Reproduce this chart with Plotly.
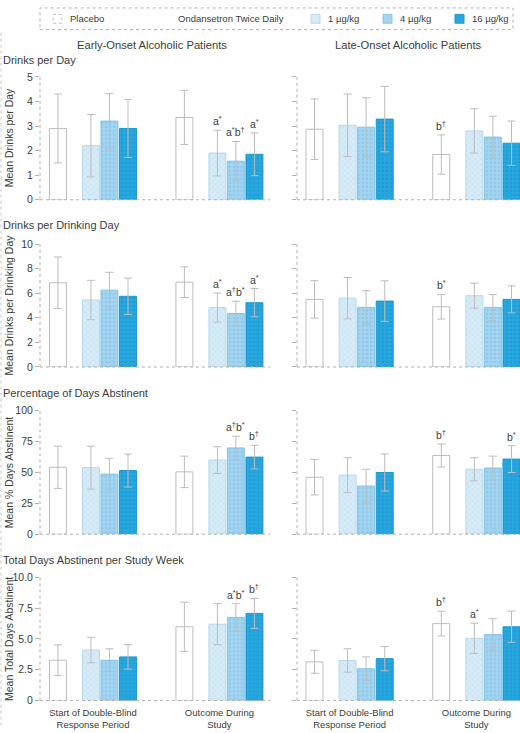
import plotly.graph_objects as go

W, H = 520, 733

# ---------------- data ----------------
groups = ["Start of Double-Blind Response Period", "Outcome During Study"]
group_ticktext = ["Start of Double-Blind<br>Response Period", "Outcome During<br>Study"]
doses = ["Placebo", "1 µg/kg", "4 µg/kg", "16 µg/kg"]
columns = ["Early-Onset Alcoholic Patients", "Late-Onset Alcoholic Patients"]
row_titles = ["Drinks per Day", "Drinks per Drinking Day",
              "Percentage of Days Abstinent", "Total Days Abstinent per Study Week"]
y_titles = ["Mean Drinks per Day", "Mean Drinks per Drinking Day",
            "Mean % Days Abstinent", "Mean Total Days Abstinent"]

# each list: one [start, outcome] pair per dose (placebo, 1, 4, 16 µg/kg)
dpd_early_mean = [[2.9, 3.35], [2.2, 1.9], [3.2, 1.57], [2.9, 1.85]]
dpd_early_err = [[1.4, 1.1], [1.27, 0.93], [1.12, 0.8], [1.18, 0.87]]
dpd_late_mean = [[2.87, 1.84], [3.03, 2.8], [2.95, 2.55], [3.28, 2.3]]
dpd_late_err = [[1.23, 0.8], [1.27, 0.9], [1.2, 0.85], [1.33, 0.9]]

ddd_early_mean = [[6.85, 6.9], [5.45, 4.83], [6.25, 4.35], [5.75, 5.23]]
ddd_early_err = [[2.1, 1.25], [1.6, 1.18], [1.45, 1.0], [1.47, 1.15]]
ddd_late_mean = [[5.5, 4.9], [5.6, 5.8], [4.85, 4.85], [5.36, 5.5]]
ddd_late_err = [[1.52, 1.0], [1.68, 1.02], [1.35, 1.05], [1.65, 1.1]]

pda_early_mean = [[54, 50.3], [53.7, 59.8], [48.5, 69.6], [51.4, 62.2]]
pda_early_err = [[17, 12.7], [17.3, 10.8], [12.7, 9.4], [13.3, 9.5]]
pda_late_mean = [[46, 63.5], [47.6, 52.4], [38.9, 53.4], [49.8, 60.6]]
pda_late_err = [[14.3, 9.3], [14.1, 9.3], [13.5, 9.6], [15, 10.8]]

tda_early_mean = [[3.27, 5.99], [4.1, 6.2], [3.27, 6.76], [3.54, 7.08]]
tda_early_err = [[1.25, 2.0], [1.03, 1.67], [0.93, 1.11], [0.99, 1.22]]
tda_late_mean = [[3.14, 6.25], [3.25, 5.05], [2.58, 5.37], [3.4, 5.99]]
tda_late_err = [[0.93, 1.01], [0.95, 1.23], [0.96, 1.28], [0.99, 1.27]]

# y-axis ticks per row
dpd_ticks = [0, 1, 2, 3, 4, 5]
ddd_ticks = [0, 2, 4, 6, 8, 10]
pda_ticks = [0, 25, 50, 75, 100]
tda_ticks = [0, 2.5, 5, 7.5, 10]
tda_ticktext = ["0", "2.5", "5.0", "7.5", "10.0"]

# significance labels: (row, column, group index, dose index, text)
sig_labels = [
    (0, 0, 1, 1, "a<sup>*</sup>"), (0, 0, 1, 2, "a<sup>*</sup>b<sup>†</sup>"),
    (0, 0, 1, 3, "a<sup>*</sup>"), (0, 1, 1, 0, "b<sup>†</sup>"),
    (1, 0, 1, 1, "a<sup>*</sup>"), (1, 0, 1, 2, "a<sup>†</sup>b<sup>*</sup>"),
    (1, 0, 1, 3, "a<sup>*</sup>"), (1, 1, 1, 0, "b<sup>*</sup>"),
    (2, 0, 1, 2, "a<sup>†</sup>b<sup>*</sup>"), (2, 0, 1, 3, "b<sup>†</sup>"),
    (2, 1, 1, 0, "b<sup>†</sup>"), (2, 1, 1, 3, "b<sup>*</sup>"),
    (3, 0, 1, 2, "a<sup>*</sup>b<sup>*</sup>"), (3, 0, 1, 3, "b<sup>†</sup>"),
    (3, 1, 1, 0, "b<sup>†</sup>"), (3, 1, 1, 1, "a<sup>*</sup>"),
]

# ---------------- styling ----------------
FONT = "Liberation Sans, Arial, sans-serif"
TXT = "#3c3c3c"
GRID = "#b0b0b0"
fills = ["#ffffff", "#d8ecf8", "#a3d4f0", "#27a7df"]
pat_fg = ["#ffffff", "#b3d8ee", "#7cc0e6", "#1a93cc"]
pat_shape = ["", "x", ".", "."]
outline = ["#bdbdbd", "#b7d7ea", "#86c3e4", "#1f97cf"]
dose_center = [-0.277, -0.016, 0.130, 0.277]   # bar centre offsets within a group
bw = 0.134

panels = [
    [(dpd_early_mean, dpd_early_err), (dpd_late_mean, dpd_late_err)],
    [(ddd_early_mean, ddd_early_err), (ddd_late_mean, ddd_late_err)],
    [(pda_early_mean, pda_early_err), (pda_late_mean, pda_late_err)],
    [(tda_early_mean, tda_early_err), (tda_late_mean, tda_late_err)],
]
row_ticks = [dpd_ticks, ddd_ticks, pda_ticks, tda_ticks]
row_ticktext = [[str(t) for t in dpd_ticks], [str(t) for t in ddd_ticks],
                [str(t) for t in pda_ticks], tda_ticktext]
row_range = [[0, 5], [0, 10], [0, 100], [0, 10]]

# pixel layout
row_px = [(72, 197), (242, 367), (411, 537), (581, 706)]   # (top, bottom)
col_px = [(40, 270), (297, 520)]
col_range = [[-0.419, 1.40], [-0.415, 1.344]]


def px(x):
    return x / W


def py(y):
    return 1 - y / H


fig = go.Figure()
layout = {}
shapes = []
annotations = []

for r in range(4):
    for c in range(2):
        n = r * 2 + c + 1
        xa = "x" if n == 1 else f"x{n}"
        ya = "y" if n == 1 else f"y{n}"
        means, errs = panels[r][c]
        for d in range(4):
            fig.add_trace(go.Bar(
                x=groups, y=means[d], name=doses[d], showlegend=False,
                xaxis=xa, yaxis=ya,
                width=bw, offset=dose_center[d] - bw / 2,
                marker=dict(color=fills[d],
                            line=dict(color=outline[d], width=1),
                            pattern=dict(shape=pat_shape[d], fgcolor=pat_fg[d],
                                         size=4, solidity=0.35)),
                error_y=dict(type="data", array=errs[d], color="#bcbcbc",
                             thickness=1, width=4),
            ))
        xkey = "xaxis" if n == 1 else f"xaxis{n}"
        ykey = "yaxis" if n == 1 else f"yaxis{n}"
        layout[xkey] = dict(
            domain=[px(col_px[c][0]), px(col_px[c][1])],
            anchor=ya, type="category", categoryarray=groups,
            range=col_range[c], showgrid=False, zeroline=False, showline=False,
            ticks="", tickvals=groups, ticktext=group_ticktext,
            showticklabels=(r == 3), ticklabelstandoff=5,
            tickfont=dict(family=FONT, size=9.5, color=TXT),
        )
        layout[ykey] = dict(
            domain=[py(row_px[r][1]), py(row_px[r][0])],
            anchor=xa, range=row_range[r], showgrid=False, zeroline=False,
            showline=False, ticks="outside", ticklen=4, tickcolor=GRID,
            tickvals=row_ticks[r], ticktext=row_ticktext[r],
            showticklabels=(c == 0),
            tickfont=dict(family=FONT, size=10.5, color=TXT),
        )
        # dotted axis lines
        shapes.append(dict(type="line", xref=f"{xa} domain", yref=f"{ya} domain",
                           x0=0, x1=0, y0=0, y1=1,
                           line=dict(color=GRID, width=1, dash="dot")))
        shapes.append(dict(type="line", xref=f"{xa} domain", yref=f"{ya} domain",
                           x0=0, x1=1, y0=0, y1=0,
                           line=dict(color=GRID, width=1, dash="dot")))

# significance annotations
for (r, c, g, d, text) in sig_labels:
    n = r * 2 + c + 1
    xa = "x" if n == 1 else f"x{n}"
    ya = "y" if n == 1 else f"y{n}"
    means, errs = panels[r][c]
    annotations.append(dict(
        x=g + dose_center[d], y=means[d][g] + errs[d][g], xref=xa, yref=ya,
        text=text, showarrow=False, yanchor="bottom", xanchor="center", yshift=1,
        font=dict(family=FONT, size=10.5, color=TXT)))

# row titles and y-axis titles
row_title_y = [55, 223, 393, 563]
for r in range(4):
    annotations.append(dict(x=px(1), y=py(row_title_y[r]), xref="paper", yref="paper",
                            text=row_titles[r], showarrow=False, xanchor="left",
                            yanchor="middle", font=dict(family=FONT, size=11, color=TXT)))
    annotations.append(dict(x=px(9), y=py((row_px[r][0] + row_px[r][1]) / 2),
                            xref="paper", yref="paper", text=y_titles[r],
                            showarrow=False, textangle=-90, xanchor="center",
                            yanchor="middle", font=dict(family=FONT, size=10.5, color=TXT)))

# column titles
for c, cx in enumerate([152, 408]):
    annotations.append(dict(x=px(cx), y=py(40), xref="paper", yref="paper",
                            text=columns[c], showarrow=False, xanchor="center",
                            yanchor="middle", font=dict(family=FONT, size=11.2, color=TXT)))

# legend (drawn manually)
shapes.append(dict(type="rect", xref="paper", yref="paper",
                   x0=px(40), x1=px(513), y0=py(24), y1=py(2),
                   line=dict(color=GRID, width=1, dash="dot"), fillcolor="rgba(0,0,0,0)"))
shapes.append(dict(type="line", xref="paper", yref="paper",
                   x0=px(1), x1=px(1), y0=py(27), y1=py(733),
                   line=dict(color="#c8c8c8", width=1, dash="dot")))
legend_swatch_x = [53, 311, 383, 455]
legend_text_x = [68, 326, 398, 470]
for d in range(4):
    shapes.append(dict(type="rect", xref="paper", yref="paper",
                       x0=px(legend_swatch_x[d]), x1=px(legend_swatch_x[d] + 9),
                       y0=py(17.5), y1=py(8.5),
                       line=dict(color=outline[d], width=1,
                                 dash="dot" if d == 0 else "solid"),
                       fillcolor=fills[d]))
    annotations.append(dict(x=px(legend_text_x[d]), y=py(13), xref="paper", yref="paper",
                            text=doses[d], showarrow=False, xanchor="left",
                            yanchor="middle", font=dict(family=FONT, size=9.5, color=TXT)))
annotations.append(dict(x=px(176), y=py(13), xref="paper", yref="paper",
                        text="Ondansetron Twice Daily", showarrow=False, xanchor="left",
                        yanchor="middle", font=dict(family=FONT, size=9.5, color=TXT)))

fig.update_layout(
    width=W, height=H, margin=dict(l=0, r=0, t=0, b=0),
    paper_bgcolor="white", plot_bgcolor="white", barmode="overlay",
    showlegend=False, shapes=shapes, annotations=annotations,
    font=dict(family=FONT, color=TXT), **layout)

fig.write_html(
    "out.html",
    config={"displayModeBar": False},
    post_script="document.body.style.margin='0';document.body.style.overflow='hidden';",
)
